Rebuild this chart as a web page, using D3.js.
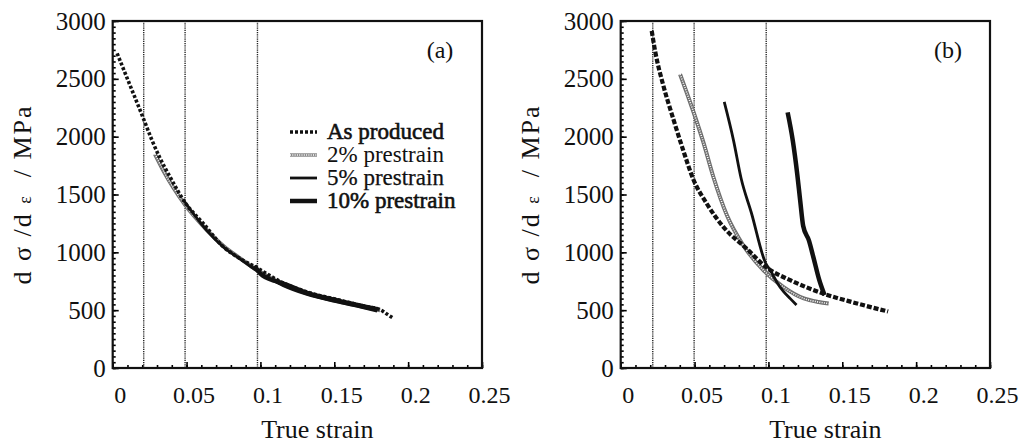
<!DOCTYPE html>
<html>

<head>
    <meta charset="UTF-8">
    <title>work hardening rate</title>
    <script src="https://d3js.org/d3.v7.min.js"></script>
    <style>
        body { margin: 0; background: #fff; }
        text { font-family: "Liberation Serif", "Times New Roman", serif; fill: #111; }
    </style>
</head>

<body>
    <svg id="chart" width="1023" height="443"></svg>
    <script>
        // ---- data ----
        var xTicks = [0, 0.05, 0.1, 0.15, 0.2, 0.25];
        var yTicks = [0, 500, 1000, 1500, 2000, 2500, 3000];
        var seriesNames = ["As produced", "2% prestrain", "5% prestrain", "10% prestrain"];
        var panelTags = ["(a)", "(b)"];
        var xTitle = "True strain";

        // dotted guide lines (strain)
        var guidesA = [0.021, 0.049, 0.098];
        var guidesB = [0.0217, 0.0497, 0.0985];

        // panel (a)
        var asProducedA = [[0.003, 2720], [0.0117, 2445], [0.0207, 2160], [0.0264, 1975], [0.032, 1815], [0.0388, 1652],
            [0.049, 1430], [0.0613, 1250], [0.0749, 1048], [0.0863, 945], [0.0963, 875], [0.1155, 735],
            [0.131, 660], [0.154, 585], [0.172, 530], [0.181, 505], [0.1866, 458], [0.19, 430]];
        var pre2A = [[0.0286, 1850], [0.035, 1690], [0.041, 1560], [0.049, 1410], [0.0636, 1195], [0.075, 1055],
            [0.086, 950], [0.0963, 858], [0.1155, 722], [0.131, 648], [0.154, 572], [0.17, 528], [0.181, 498]];
        var pre5A = [[0.048, 1450], [0.0636, 1190], [0.075, 1045], [0.086, 945], [0.0963, 850], [0.1155, 712],
            [0.131, 638], [0.154, 565], [0.17, 520], [0.179, 492]];
        var pre10A = [[0.096, 885], [0.1, 815], [0.11, 752], [0.1155, 730], [0.131, 652], [0.154, 578],
            [0.17, 533], [0.179, 508]];

        // panel (b)
        var asProducedB = [[0.021, 2914], [0.0233, 2740], [0.0289, 2440], [0.0357, 2150], [0.0424, 1879],
            [0.0492, 1630], [0.0583, 1420], [0.0696, 1218], [0.0854, 1030], [0.099, 866], [0.1148, 759],
            [0.137, 644], [0.158, 565], [0.181, 488]];
        var pre2B = [[0.0402, 2540], [0.049, 2224], [0.056, 1950], [0.0628, 1649], [0.0719, 1320], [0.083, 1060],
            [0.0967, 845], [0.11, 701], [0.124, 601], [0.134, 570], [0.1408, 557]];
        var pre5B = [[0.0701, 2300], [0.0764, 1966], [0.0815, 1640], [0.0885, 1340], [0.098, 910], [0.1015, 840],
            [0.1058, 740], [0.11, 665], [0.1148, 600], [0.119, 545]];
        var pre10B = [[0.113, 2210], [0.1165, 1966], [0.1195, 1678], [0.1215, 1448], [0.1235, 1230],
            [0.1274, 1103], [0.1306, 950], [0.1342, 770], [0.138, 630]];

        // ---- drawing ----
        var svg = d3.select("#chart");
        var W = 369.3, plotTop = 21, plotBottom = 368;

        function drawHatched(g, line, d) {
            g.append("path").attr("d", line(d))
                .attr("fill", "none").attr("stroke", "#6e6e6e").attr("stroke-width", 4);
            g.append("path").attr("d", line(d))
                .attr("fill", "none").attr("stroke", "#fff").attr("stroke-width", 1.6)
                .attr("stroke-dasharray", "1 1.3");
        }

        function drawPanel(left, guides, series, tag, asDash) {
            var x = d3.scaleLinear().domain([0, 0.25]).range([left, left + W]);
            var y = d3.scaleLinear().domain([0, 3000]).range([plotBottom, plotTop]);
            var g = svg.append("g");

            // minor / major ticks bottom
            g.append("g").attr("transform", "translate(0," + plotBottom + ")")
                .call(d3.axisBottom(x).tickValues(x.ticks(25)).tickSize(-3).tickSizeOuter(0).tickFormat(""))
                .call(function (a) { a.select(".domain").remove(); a.selectAll("line").attr("stroke-width", 1.6); });
            var xa = g.append("g").attr("transform", "translate(0," + plotBottom + ")")
                .call(d3.axisBottom(x).tickValues(xTicks).tickSize(-6).tickSizeOuter(0).tickPadding(18)
                    .tickFormat(function (d) { return d; }));
            xa.select(".domain").remove();
            xa.selectAll("line").attr("stroke-width", 1.6);
            xa.selectAll("text").attr("font-size", 24).attr("dx", 7)
                .attr("font-family", "'Liberation Serif', serif").attr("fill", "#111");

            // left ticks
            g.append("g").attr("transform", "translate(" + left + ",0)")
                .call(d3.axisLeft(y).tickValues(y.ticks(60)).tickSize(-3).tickSizeOuter(0).tickFormat(""))
                .call(function (a) { a.select(".domain").remove(); a.selectAll("line").attr("stroke-width", 1.6); });
            var ya = g.append("g").attr("transform", "translate(" + left + ",0)")
                .call(d3.axisLeft(y).tickValues(yTicks).tickSize(-6).tickSizeOuter(0).tickPadding(7)
                    .tickFormat(d3.format("d")));
            ya.select(".domain").remove();
            ya.selectAll("line").attr("stroke-width", 1.6);
            ya.selectAll("text").attr("font-size", 25)
                .attr("font-family", "'Liberation Serif', serif").attr("fill", "#111");

            // frame
            g.append("rect").attr("x", left).attr("y", plotTop).attr("width", W).attr("height", plotBottom - plotTop)
                .attr("fill", "none").attr("stroke", "#111").attr("stroke-width", 2.2);

            // dotted guides
            g.selectAll(".guide").data(guides).enter().append("line")
                .attr("x1", function (d) { return x(d); }).attr("x2", function (d) { return x(d); })
                .attr("y1", plotTop).attr("y2", plotBottom)
                .attr("stroke", "#222").attr("stroke-width", 1.4).attr("stroke-dasharray", "1.2 1");

            var line = d3.line().x(function (d) { return x(d[0]); }).y(function (d) { return y(d[1]); })
                .curve(d3.curveMonotoneX);

            drawHatched(g, line, series[1]);
            g.append("path").attr("d", line(series[2])).attr("fill", "none")
                .attr("stroke", "#111").attr("stroke-width", 2.8);
            g.append("path").attr("d", line(series[3])).attr("fill", "none")
                .attr("stroke", "#111").attr("stroke-width", 4.5);
            g.append("path").attr("d", line(series[0])).attr("fill", "none")
                .attr("stroke", "#111").attr("stroke-width", asDash.w).attr("stroke-dasharray", asDash.d);

            // panel tag
            g.append("text").attr("x", left + W - 42).attr("y", 58).attr("text-anchor", "middle")
                .attr("font-size", 24).text(tag);

            // titles
            g.append("text").attr("x", left + W / 2 + 20).attr("y", 438).attr("text-anchor", "middle")
                .attr("font-size", 26).text(xTitle);
            var yl = g.append("text").attr("transform", "translate(" + (left - 82) + "," + ((plotTop + plotBottom) / 2) + ") rotate(-90)")
                .attr("text-anchor", "middle").attr("font-size", 26).attr("letter-spacing", 2);
            yl.append("tspan").text("d \u03c3 /d ");
            yl.append("tspan").attr("font-size", 18).text("\u03b5");
            yl.append("tspan").text("\u00a0 / MPa");

            return { x: x, y: y, g: g };
        }

        drawPanel(112.7, guidesA, [asProducedA, pre2A, pre5A, pre10A], panelTags[0], { w: 3.6, d: "3 2" });
        drawPanel(620.7, guidesB, [asProducedB, pre2B, pre5B, pre10B], panelTags[1], { w: 4.2, d: "5 2" });

        // legend in panel (a)
        var rows = [132, 155, 178, 201];
        var lg = svg.append("g");
        seriesNames.forEach(function (name, i) {
            var yy = rows[i];
            var sample = [[290, yy], [317, yy]];
            var l = d3.line();
            if (i === 0) {
                lg.append("path").attr("d", l(sample)).attr("stroke", "#111").attr("stroke-width", 3.6)
                    .attr("stroke-dasharray", "3 2");
            } else if (i === 1) {
                lg.append("path").attr("d", l(sample)).attr("stroke", "#8a8a8a").attr("stroke-width", 3.5);
                lg.append("path").attr("d", l(sample)).attr("stroke", "#fff").attr("stroke-width", 1.4)
                    .attr("stroke-dasharray", "1 1.3");
            } else {
                lg.append("path").attr("d", l(sample)).attr("stroke", "#111").attr("stroke-width", i === 2 ? 2.8 : 4.5);
            }
            lg.append("text").attr("x", 327).attr("y", yy + 7).attr("font-size", 23)
                .attr("fill", i === 1 ? "#555" : "#111")
                .attr("stroke", i === 1 ? "none" : "#111")
                .attr("stroke-width", i === 3 || i === 0 ? 0.6 : 0.25)
                .text(name);
        });
    </script>
</body>

</html>
